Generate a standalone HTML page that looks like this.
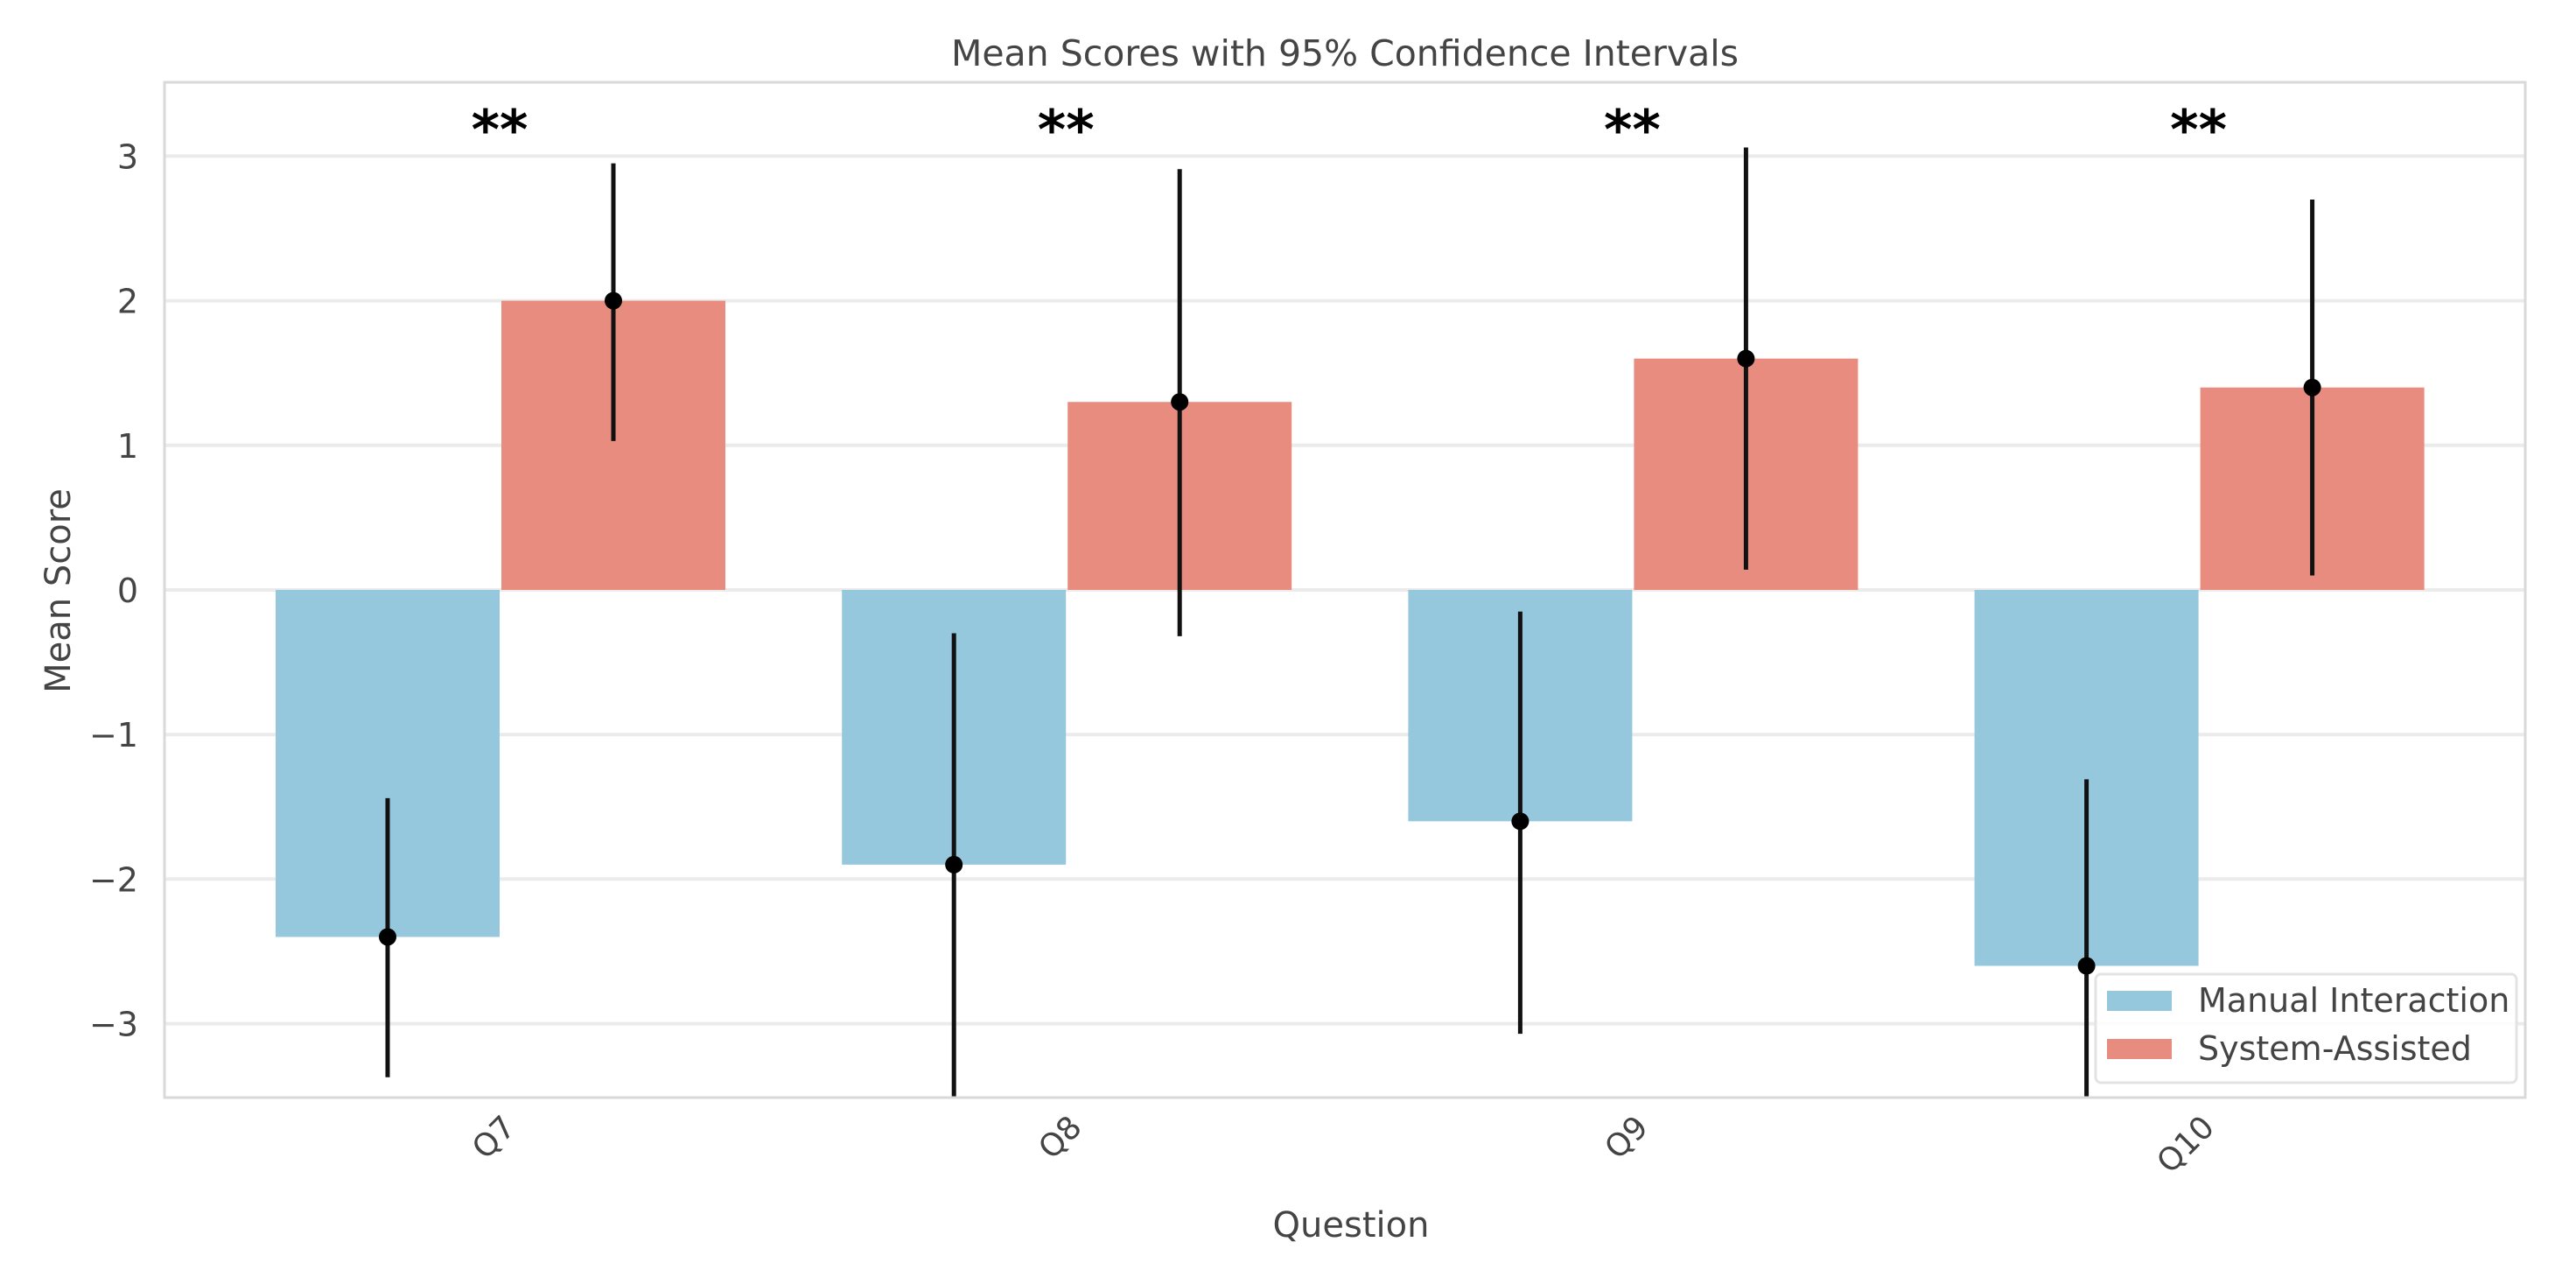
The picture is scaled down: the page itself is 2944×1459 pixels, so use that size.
<!DOCTYPE html>
<html><head><meta charset="utf-8"><style>
html,body{margin:0;padding:0;background:#fff;}
svg{display:block;font-family:"DejaVu Sans","Liberation Sans",sans-serif;}
</style></head><body>
<svg id="chart" width="2944" height="1459" viewBox="0 0 2944 1459" xmlns="http://www.w3.org/2000/svg">
<text x="1537" y="75" text-anchor="middle" font-size="41" fill="#444">Mean Scores with 95% Confidence Intervals</text>
<g id="grid"></g><g id="bars"></g>
<g>
<rect x="2395" y="1113" width="481" height="124" rx="6" fill="#fff" fill-opacity="0.85" stroke="#e3e3e3" stroke-width="3"/>
<rect x="2408" y="1132" width="74" height="23" fill="#95c8dd"/>
<text x="2512" y="1156" font-size="38" fill="#444">Manual Interaction</text>
<rect x="2408" y="1187" width="74" height="23" fill="#e88c80"/>
<text x="2512" y="1211" font-size="38" fill="#444">System-Assisted</text>
</g>
<g id="errs"></g><g id="yticks"></g><g id="xticks"></g><g id="stars"></g>
<rect x="188" y="94" width="2698" height="1160" fill="none" stroke="#d9d9d9" stroke-width="3"/>
<text transform="translate(80,675) rotate(-90)" text-anchor="middle" font-size="40" fill="#444">Mean Score</text>
<text x="1544" y="1413" text-anchor="middle" font-size="40" fill="#444">Question</text>
</svg>
<script>
const categories = ["Q7","Q8","Q9","Q10"];
const manualMeans = [-2.4,-1.9,-1.6,-2.6];
const systemMeans = [2.0,1.3,1.6,1.4];
const manualLow = [-3.37,-3.8,-3.07,-3.9];
const manualHigh = [-1.44,-0.30,-0.15,-1.31];
const systemLow = [1.03,-0.32,0.14,0.10];
const systemHigh = [2.95,2.91,3.06,2.70];
const yTicks = [-3,-2,-1,0,1,2,3];
const sigLabels = ["**","**","**","**"];

const NS="http://www.w3.org/2000/svg";
const L=188,R=2886,T=94,B=1254;
const Y0=674,YU=165.2;
function ys(v){return Y0 - v*YU;}
const X0=571,XU=647.2;
function xs(i){return X0 + i*XU;}
const BW=256;
function mk(tag,attrs,parent){const e=document.createElementNS(NS,tag);for(const k in attrs)e.setAttribute(k,attrs[k]);document.getElementById(parent).appendChild(e);return e;}
function clampY(v){return Math.max(T,Math.min(B,ys(v)));}

yTicks.forEach(t=>{
  const g=mk('line',{x1:L,x2:R,y1:ys(t),y2:ys(t),stroke:'#ebebeb','stroke-width':4},'grid');
  
  
  const tx=mk('text',{x:158,y:ys(t)+14,'text-anchor':'end','font-size':38,fill:'#444'},'yticks');
  tx.textContent=(t<0?'\u2212'+Math.abs(t):String(t));
  
  
});

categories.forEach((c,i)=>{
  const cx=xs(i);
  const mb=mk('rect',{x:cx-BW,y:ys(0),width:BW,height:ys(manualMeans[i])-ys(0),fill:'#95c8dd'},'bars');
  
  
  const sb=mk('rect',{x:cx+2,y:ys(systemMeans[i]),width:BW,height:ys(0)-ys(systemMeans[i]),fill:'#e88c80'},'bars');
  
  
  [[cx-BW/2,manualMeans[i],manualLow[i],manualHigh[i],'manual'],[cx+2+BW/2,systemMeans[i],systemLow[i],systemHigh[i],'system']].forEach(a=>{
    const ln=mk('line',{x1:a[0],x2:a[0],y1:clampY(a[2]),y2:clampY(a[3]),stroke:'#111','stroke-width':5},'errs');
    
    
    const dt=mk('circle',{cx:a[0],cy:ys(a[1]),r:10,fill:'#000'},'errs');
    
    
  });
  const st=mk('text',{x:cx,y:170,'text-anchor':'middle','font-size':62,'font-weight':'bold',fill:'#000'},'stars');
  st.textContent=sigLabels[i];
  
  
  const xl=mk('text',{transform:'translate('+(cx+20)+',1290) rotate(-45)','text-anchor':'end','font-size':36,fill:'#444'},'xticks');
  xl.textContent=c;
  
  
});
</script>
</body></html>
